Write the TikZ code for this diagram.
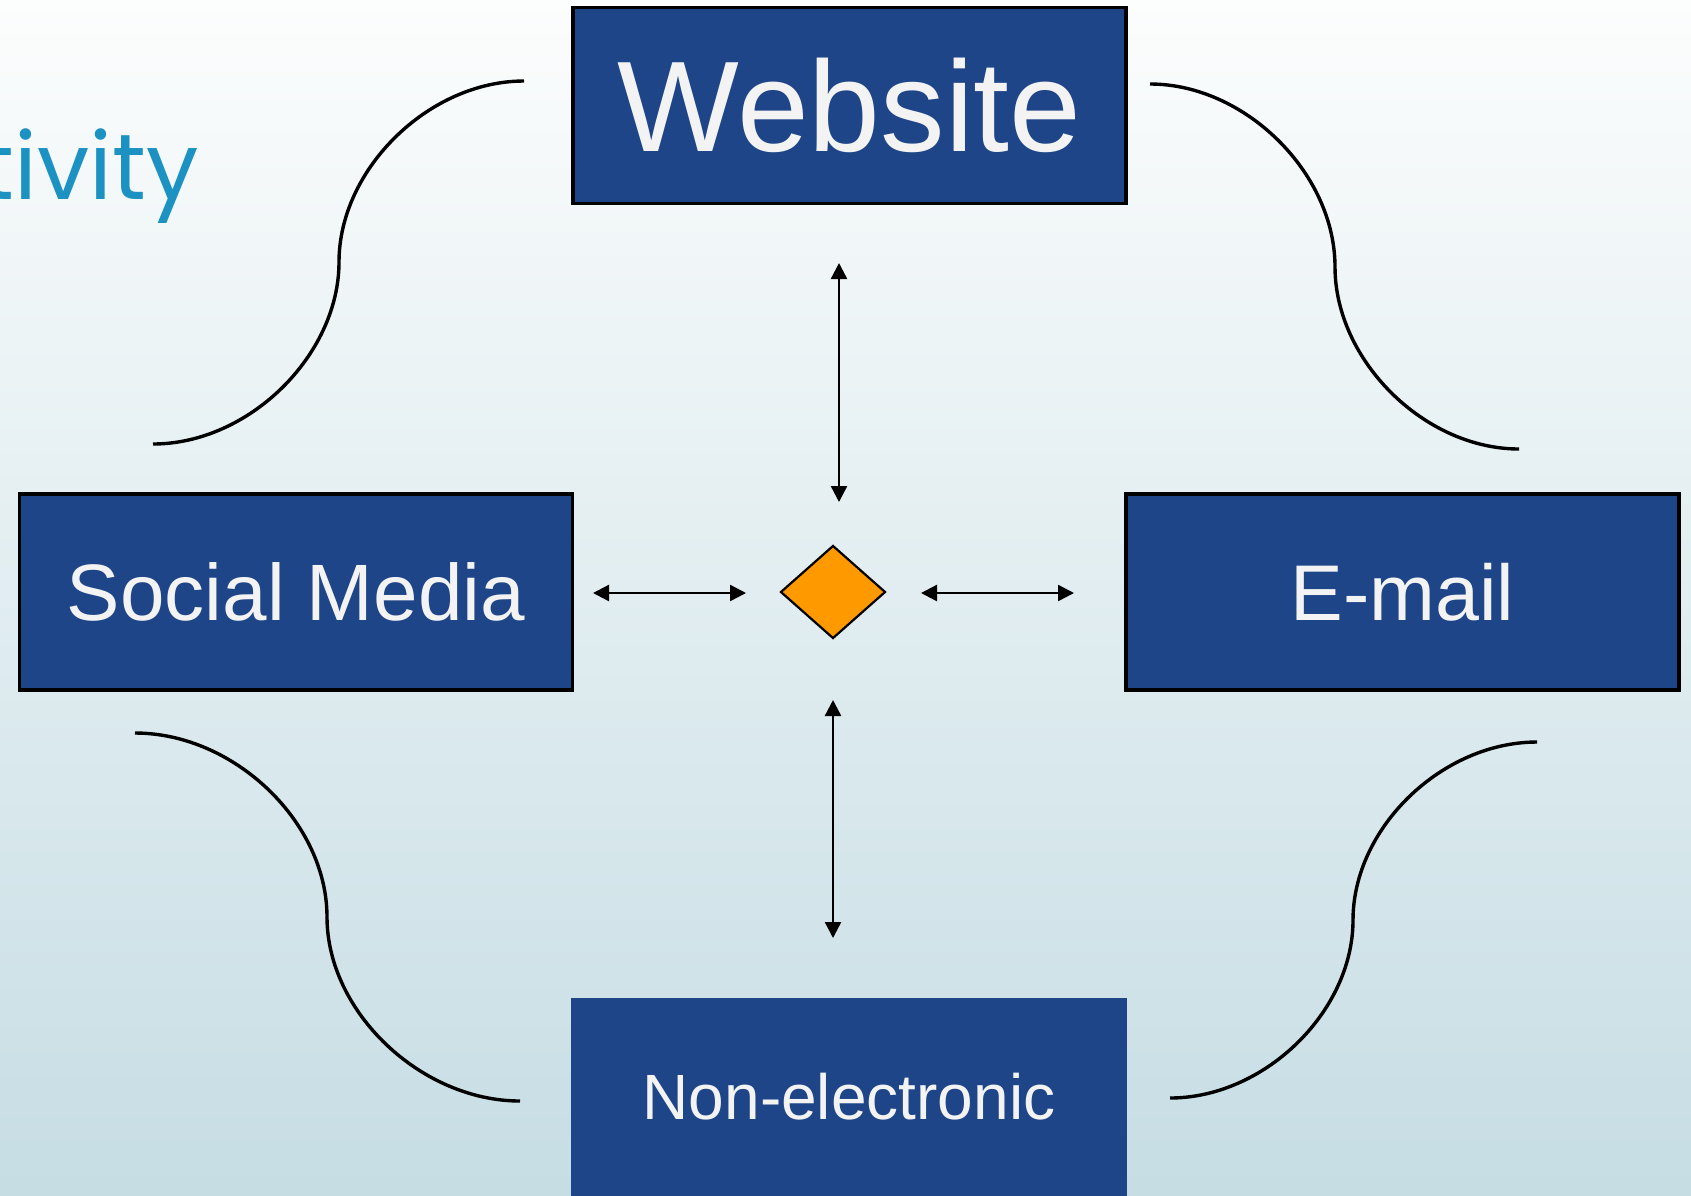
\documentclass[tikz,border=0pt]{standalone}
\usepackage{fontspec}
\setmainfont{Liberation Sans}
\newfontfamily\geofont{Poppins}
\usetikzlibrary{shapes.geometric,arrows.meta}
\definecolor{boxblue}{RGB}{30,69,136}
\definecolor{txtwhite}{RGB}{243,243,243}
\definecolor{bgtop}{RGB}{252,253,253}
\definecolor{bgbot}{RGB}{198,221,228}
\definecolor{titleblue}{RGB}{27,146,193}
\definecolor{diaorange}{RGB}{255,153,0}
\tikzset{
  bluebox/.style={rectangle, fill=boxblue, draw=black, line width=3.2pt, minimum width=553pt, minimum height=196pt, inner sep=0pt, text=txtwhite},
  dblarrow/.style={line width=2.4pt, {Triangle[length=16pt,width=16pt]}-{Triangle[length=16pt,width=16pt]}},
  swirl/.style={line width=3.4pt, black},
  diabox/.style={diamond, fill=diaorange, draw=black, line width=2.2pt, minimum width=105pt, minimum height=93pt, inner sep=0pt}
}
\begin{document}
\begin{tikzpicture}[x=1pt,y=-1pt]
\useasboundingbox (0,0) rectangle (1691,1195);
\clip (0,0) rectangle (1691,1195);
\shade[top color=bgtop, bottom color=bgbot] (0,0) rectangle (1691,1195);

\node[anchor=base east, inner sep=0pt, text=titleblue, font=\geofont\fontsize{93}{100}\selectfont] (title) at (199,199) {tivity};

\node[bluebox, font=\fontsize{129}{132}\selectfont] (web) at (849.5,105.75) {Website};
\node[bluebox, font=\fontsize{80}{84}\selectfont] (social) at (296,592) {Social Media};
\node[bluebox, font=\fontsize{79}{84}\selectfont] (email) at (1402.5,592) {E-mail};
\node[bluebox, draw=none, minimum width=556pt, minimum height=198pt, font=\fontsize{64}{68}\selectfont] (nonel) at (849,1097) {Non-electronic};

\node[diabox] (hub) at (833,592) {};

\coordinate (la1) at (593,593); \coordinate (la2) at (746,593);
\coordinate (ra1) at (921,593); \coordinate (ra2) at (1074,593);
\coordinate (ta1) at (839,263); \coordinate (ta2) at (839,502);
\coordinate (ba1) at (833,700); \coordinate (ba2) at (833,938);
\draw[dblarrow] (la1) -- (la2);
\draw[dblarrow] (ra1) -- (ra2);
\draw[dblarrow] (ta1) -- (ta2);
\draw[dblarrow] (ba1) -- (ba2);

\coordinate (tlA) at (524,81); \coordinate (tlM) at (339,262); \coordinate (tlB) at (153,444);
\draw[swirl] (tlA) .. controls +(-95,0) and +(0,-93) .. (tlM) .. controls +(0,93) and +(96,0) .. (tlB);
\coordinate (trA) at (1150,84); \coordinate (trM) at (1335,267); \coordinate (trB) at (1519,449);
\draw[swirl] (trA) .. controls +(95,0) and +(0,-94) .. (trM) .. controls +(0,93) and +(-95,0) .. (trB);
\coordinate (blA) at (135,733); \coordinate (blM) at (327,917); \coordinate (blB) at (520,1101);
\draw[swirl] (blA) .. controls +(99,0) and +(0,-95) .. (blM) .. controls +(0,95) and +(-99,0) .. (blB);
\coordinate (brA) at (1537,742); \coordinate (brM) at (1353,920); \coordinate (brB) at (1170,1098);
\draw[swirl] (brA) .. controls +(-95,0) and +(0,-92) .. (brM) .. controls +(0,92) and +(94,0) .. (brB);
\end{tikzpicture}
\end{document}
